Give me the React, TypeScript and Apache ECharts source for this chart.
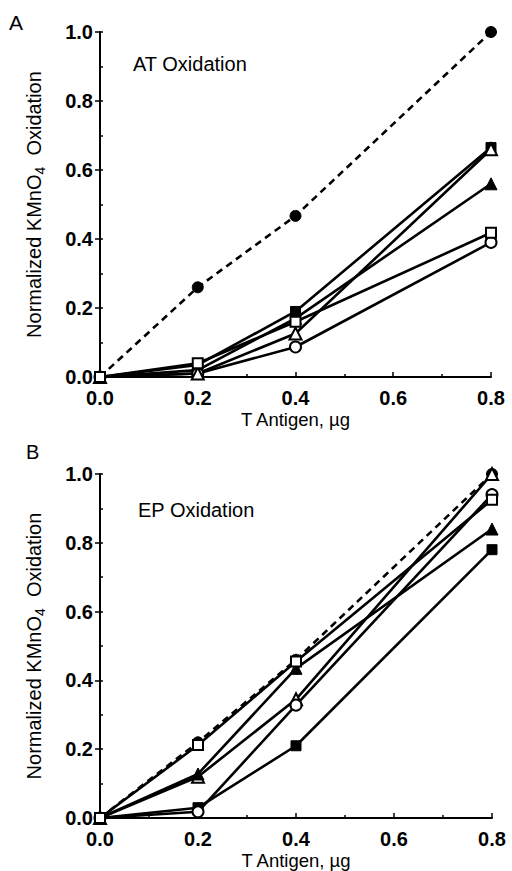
import React, { useEffect, useRef } from "react";
import * as echarts from "echarts";

// x categories (T Antigen, µg)
const doses = [0, 0.2, 0.4, 0.8];

// Panel A: AT Oxidation
const aFilledCircle = [0, 0.26, 0.467, 1.0];
const aFilledSquare = [0, 0.035, 0.19, 0.665];
const aFilledTriangle = [0, 0.02, 0.17, 0.56];
const aOpenCircle = [0, 0.01, 0.087, 0.39];
const aOpenTriangle = [0, 0.01, 0.126, 0.66];
const aOpenSquare = [0, 0.04, 0.16, 0.418];

// Panel B: EP Oxidation
const bFilledCircle = [0, 0.22, 0.46, 1.0];
const bFilledSquare = [0, 0.03, 0.21, 0.78];
const bFilledTriangle = [0, 0.128, 0.435, 0.84];
const bOpenCircle = [0, 0.018, 0.328, 0.94];
const bOpenTriangle = [0, 0.12, 0.345, 1.0];
const bOpenSquare = [0, 0.212, 0.455, 0.925];

const panelLetters = ["A", "B"];
const panelTitles = ["AT Oxidation", "EP Oxidation"];
const xTitle = "T Antigen, µg";

const FONT = "'Liberation Sans', Arial, Helvetica, sans-serif";

type Spec = { data: number[]; symbol: string; filled: boolean; dashed?: boolean };

function panelSeries(specs: Spec[], xi: number, yi: number) {
  return specs.map((s) => ({
    type: "line",
    xAxisIndex: xi,
    yAxisIndex: yi,
    data: doses.map((d, i) => [d, s.data[i]]),
    symbol: s.symbol,
    symbolSize: s.symbol === "triangle" ? 12 : s.symbol === "rect" ? 10 : 11,
    showSymbol: true,
    lineStyle: { color: "#000", width: 2.6, type: s.dashed ? [7, 5] : "solid" },
    itemStyle: s.filled
      ? { color: "#000", borderColor: "#000", borderWidth: 1 }
      : { color: "#fff", borderColor: "#000", borderWidth: 2 },
    emphasis: { disabled: true },
    z: 2,
  }));
}

export default function App() {
  const ref = useRef<HTMLDivElement>(null);
  useEffect(() => {
    if (!ref.current) return;
    const chart = echarts.init(ref.current, null, { renderer: "svg" });

    const grids = [
      { left: 100, top: 32, width: 391, height: 345 },
      { left: 100, top: 474, width: 392, height: 345 },
    ];

    const xAxes = grids.map((_, gi) => ({
      type: "value",
      gridIndex: gi,
      min: 0,
      max: 0.8,
      interval: 0.2,
      name: xTitle,
      nameLocation: "middle",
      nameGap: 33,
      nameTextStyle: { fontFamily: FONT, fontSize: 18.5, color: "#000" },
      axisLine: { show: true, onZero: false, lineStyle: { color: "#000", width: 2 } },
      axisTick: { show: true, inside: true, length: 5, lineStyle: { color: "#000", width: 1.5 } },
      minorTick: { show: true, splitNumber: 2, length: 3, lineStyle: { color: "#000", width: 1.5 } },
      axisLabel: {
        margin: 11,
        fontFamily: FONT,
        fontSize: 20,
        fontWeight: "bold",
        color: "#000",
        formatter: (v: number) => v.toFixed(1),
      },
      splitLine: { show: false },
    }));

    const yAxes: any[] = [];
    grids.forEach((_, gi) => {
      yAxes.push({
        type: "value",
        gridIndex: gi,
        min: 0,
        max: 1,
        interval: 0.2,
        name: "{n|Normalized KMnO}{s|4}{n|  Oxidation}",
        nameLocation: "middle",
        nameRotate: 90,
        nameGap: 53,
        nameTextStyle: {
          color: "#000",
          rich: {
            n: { fontFamily: FONT, fontSize: 20, lineHeight: 27, color: "#000" },
            s: { fontFamily: FONT, fontSize: 14, lineHeight: 14, verticalAlign: "bottom", color: "#000" },
          },
        },
        axisLine: { show: true, onZero: false, lineStyle: { color: "#000", width: 2 } },
        axisTick: { show: true, inside: false, length: 5, lineStyle: { color: "#000", width: 1.5 } },
        axisLabel: {
          margin: 7,
          fontFamily: FONT,
          fontSize: 20,
          fontWeight: "bold",
          color: "#000",
          formatter: (v: number) => v.toFixed(1),
        },
        splitLine: { show: false },
      });
      yAxes.push({
        type: "value",
        gridIndex: gi,
        position: "left",
        min: 0,
        max: 1,
        interval: 0.1,
        axisLine: { show: false },
        axisTick: { show: true, inside: true, length: 3, lineStyle: { color: "#000", width: 1.5 } },
        axisLabel: { show: false },
        splitLine: { show: false },
      });
    });

    const aSpecs: Spec[] = [
      { data: aFilledCircle, symbol: "circle", filled: true, dashed: true },
      { data: aFilledSquare, symbol: "rect", filled: true },
      { data: aFilledTriangle, symbol: "triangle", filled: true },
      { data: aOpenCircle, symbol: "circle", filled: false },
      { data: aOpenTriangle, symbol: "triangle", filled: false },
      { data: aOpenSquare, symbol: "rect", filled: false },
    ];
    const bSpecs: Spec[] = [
      { data: bFilledCircle, symbol: "circle", filled: true, dashed: true },
      { data: bFilledSquare, symbol: "rect", filled: true },
      { data: bOpenTriangle, symbol: "triangle", filled: false },
      { data: bFilledTriangle, symbol: "triangle", filled: true },
      { data: bOpenCircle, symbol: "circle", filled: false },
      { data: bOpenSquare, symbol: "rect", filled: false },
    ];

    const textStyle = (t: string, x: number, y: number, size: number) => ({
      type: "text",
      x,
      y,
      style: { text: t, fontFamily: FONT, fontSize: size, fill: "#000", textVerticalAlign: "middle", textAlign: "left" },
    });

    chart.setOption({
      animation: false,
      backgroundColor: "#fff",
      grid: grids,
      xAxis: xAxes,
      yAxis: yAxes,
      series: [...panelSeries(aSpecs, 0, 0), ...panelSeries(bSpecs, 1, 2)],
      graphic: [
        textStyle(panelLetters[0], 9, 22, 21),
        textStyle(panelTitles[0], 133, 64, 20),
        textStyle(panelLetters[1], 26, 452, 20),
        textStyle(panelTitles[1], 138, 510, 20),
      ],
    });
    return () => chart.dispose();
  }, []);
  return (
    <div
      ref={ref}
      style={{ position: "fixed", left: 0, top: 0, width: 512, height: 871, background: "#fff" }}
    />
  );
}
